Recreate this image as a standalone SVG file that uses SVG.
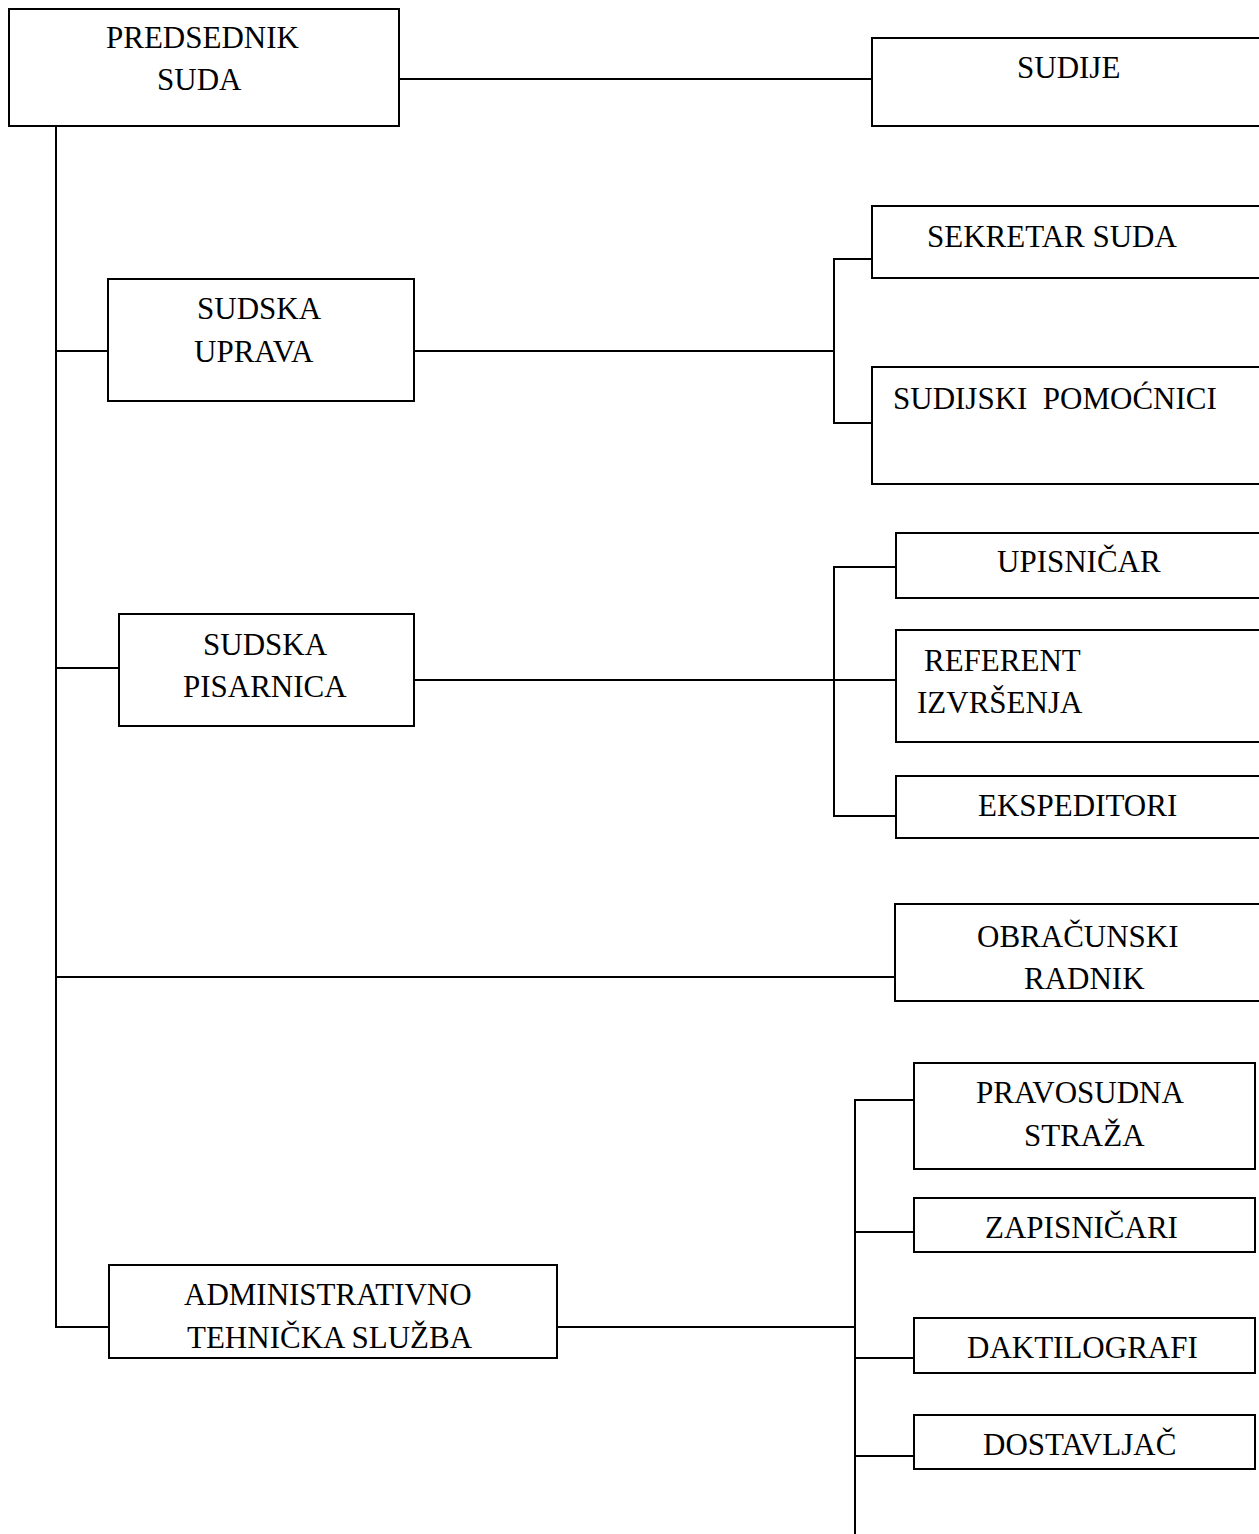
<svg xmlns="http://www.w3.org/2000/svg" width="1259" height="1534" viewBox="0 0 1259 1534">
<style>
rect{fill:#fff;stroke:#000;stroke-width:2}
line,polyline{fill:none;stroke:#000;stroke-width:2}
text{font-family:"Liberation Serif","Times New Roman",serif;font-size:31px;fill:#000}
</style>
<rect x="0" y="0" width="1259" height="1534" style="stroke:none"/>
<g id="connectors">
<line x1="399" y1="79" x2="872" y2="79"/>
<polyline points="56,126 56,1327 109,1327"/>
<line x1="56" y1="351" x2="108" y2="351"/>
<line x1="56" y1="668" x2="119" y2="668"/>
<line x1="56" y1="977" x2="895" y2="977"/>
<line x1="414" y1="351" x2="834" y2="351"/>
<polyline points="872,259 834,259 834,423 872,423"/>
<line x1="414" y1="680" x2="896" y2="680"/>
<polyline points="896,567 834,567 834,816 896,816"/>
<line x1="557" y1="1327" x2="855" y2="1327"/>
<polyline points="914,1100 855,1100 855,1534"/>
<line x1="855" y1="1232" x2="914" y2="1232"/>
<line x1="855" y1="1358" x2="914" y2="1358"/>
<line x1="855" y1="1456" x2="914" y2="1456"/>
</g>
<g id="predsednik"><rect x="9" y="9" width="390" height="117"/><text x="106" y="48">PREDSEDNIK</text><text x="157" y="90">SUDA</text></g>
<g id="sudije"><rect x="872" y="38" width="392" height="88"/><text x="1017" y="78">SUDIJE</text></g>
<g id="sekretar"><rect x="872" y="206" width="392" height="72"/><text x="927" y="247">SEKRETAR SUDA</text></g>
<g id="uprava"><rect x="108" y="279" width="306" height="122"/><text x="197" y="319">SUDSKA</text><text x="194" y="362">UPRAVA</text></g>
<g id="pomocnici"><rect x="872" y="367" width="392" height="117"/><text x="893" y="409" xml:space="preserve">SUDIJSKI  POMOĆNICI</text></g>
<g id="pisarnica"><rect x="119" y="614" width="295" height="112"/><text x="203" y="655">SUDSKA</text><text x="183" y="697">PISARNICA</text></g>
<g id="upisnicar"><rect x="896" y="533" width="368" height="65"/><text x="997" y="572">UPISNIČAR</text></g>
<g id="referent"><rect x="896" y="630" width="368" height="112"/><text x="924" y="671">REFERENT</text><text x="917" y="713">IZVRŠENJA</text></g>
<g id="ekspeditori"><rect x="896" y="776" width="368" height="62"/><text x="978" y="816">EKSPEDITORI</text></g>
<g id="obracunski"><rect x="895" y="904" width="369" height="97"/><text x="977" y="947">OBRAČUNSKI</text><text x="1024" y="989">RADNIK</text></g>
<g id="pravosudna"><rect x="914" y="1063" width="341" height="106"/><text x="976" y="1103">PRAVOSUDNA</text><text x="1024" y="1146">STRAŽA</text></g>
<g id="zapisnicari"><rect x="914" y="1198" width="341" height="54"/><text x="985" y="1238">ZAPISNIČARI</text></g>
<g id="daktilografi"><rect x="914" y="1318" width="341" height="55"/><text x="967" y="1358">DAKTILOGRAFI</text></g>
<g id="dostavljac"><rect x="914" y="1415" width="341" height="54"/><text x="983" y="1455">DOSTAVLJAČ</text></g>
<g id="administrativno"><rect x="109" y="1265" width="448" height="93"/><text x="184" y="1305">ADMINISTRATIVNO</text><text x="187" y="1348">TEHNIČKA SLUŽBA</text></g>
</svg>
